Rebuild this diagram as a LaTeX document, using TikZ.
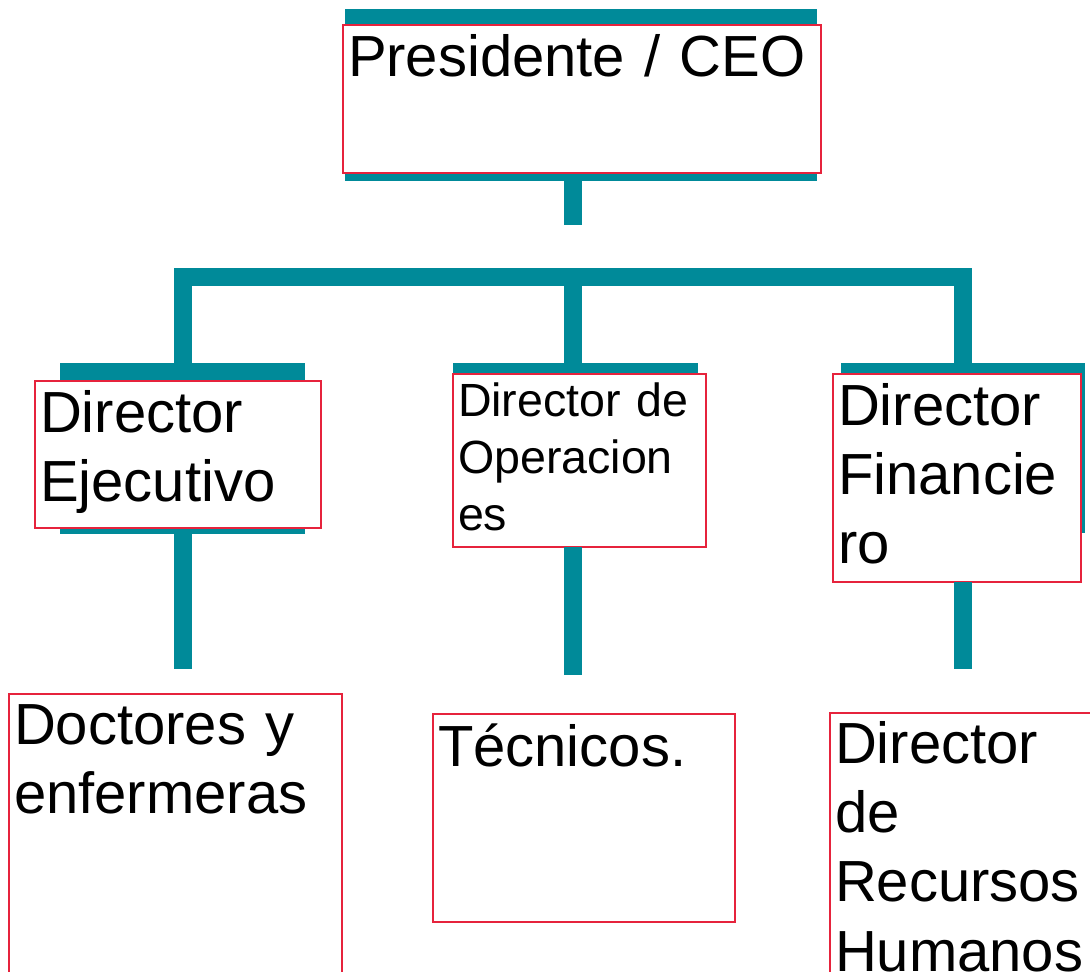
\documentclass[tikz,border=0pt]{standalone}
\usepackage{fontspec}
\setmainfont{Liberation Sans}
\definecolor{verdeazul}{RGB}{0,138,153}
\definecolor{rojo}{RGB}{230,35,60}

\begin{document}
\begin{tikzpicture}
  [fondo/.style={rectangle,fill=verdeazul,draw=none,inner sep=0pt,outer sep=0pt,anchor=north west},
  puesto/.style={rectangle,draw=rojo,fill=white,line width=1.2pt,inner xsep=0.1cm,inner ysep=0.1cm,outer sep=0pt,anchor=north west,align=left,font=\fontsize{33}{39.5}\selectfont},
  linea/.style={verdeazul,line width=0.35cm,line join=miter}]
  \fill[white] (0,0) rectangle (21.8,-19.42);
  \useasboundingbox (0,0) rectangle (21.8,-19.42);
  \clip (0,0) rectangle (21.8,-19.42);

  \node[fondo,minimum width=9.44cm,minimum height=3.44cm] (ceoFondo) at (6.9,-0.18) {};
  \node[fondo,minimum width=4.9cm,minimum height=3.43cm] (ejecFondo) at (1.2,-7.25) {};
  \node[fondo,minimum width=4.9cm,minimum height=3.65cm] (operFondo) at (9.06,-7.25) {};
  \node[fondo,minimum width=4.88cm,minimum height=3.41cm] (finFondo) at (16.82,-7.25) {};

  \node[puesto,text width=9.36cm,text height=0.92cm,text depth=1.84cm] (ceo) at (6.86,-0.5) {Presidente / CEO};
  \node[puesto,text width=5.52cm,text height=0.92cm,text depth=1.82cm] (ejec) at (0.7,-7.62) {Director\\Ejecutivo};
  \node[puesto,text width=4.86cm,text height=0.74cm,text depth=2.52cm,font=\fontsize{26.5}{32.7}\selectfont] (oper) at (9.06,-7.48) {Director de\\Operacion\\es};
  \node[puesto,text width=4.76cm,text height=0.92cm,text depth=3.04cm] (fin) at (16.66,-7.48) {Director\\Financie\\ro};

  \node[puesto,text width=6.46cm,text height=0.9cm,text depth=4.9cm] (doctores) at (0.18,-13.88) {Doctores y\\enfermeras};
  \node[puesto,text width=5.84cm,text height=0.94cm,text depth=3.02cm] (tecnicos) at (8.66,-14.28) {Técnicos.};
  \node[puesto,text width=5.2cm,text height=0.9cm,text depth=4.9cm] (rrhh) at (16.6,-14.26) {Director\\de\\Recursos\\Humanos};

  \coordinate (c1) at (3.66,-5.54);
  \coordinate (c2) at (11.46,-5.54);
  \coordinate (c3) at (19.26,-5.54);
  \coordinate (ceoPie) at (11.46,-4.5);
  \coordinate (ejecPie) at (3.66,-13.38);
  \coordinate (operPie) at (11.46,-13.5);
  \coordinate (finPie) at (19.26,-13.38);

  \draw[linea] (ceoFondo.south -| ceoPie) -- (ceoPie);
  \draw[linea] (ejecFondo.north -| c1) -- (c1) -- (c3) -- (finFondo.north -| c3);
  \draw[linea] (c2) -- (operFondo.north -| c2);
  \draw[linea] (ejecFondo.south -| c1) -- (ejecPie);
  \draw[linea] (oper.south -| c2) -- (operPie);
  \draw[linea] (fin.south -| c3) -- (finPie);
\end{tikzpicture}
\end{document}
